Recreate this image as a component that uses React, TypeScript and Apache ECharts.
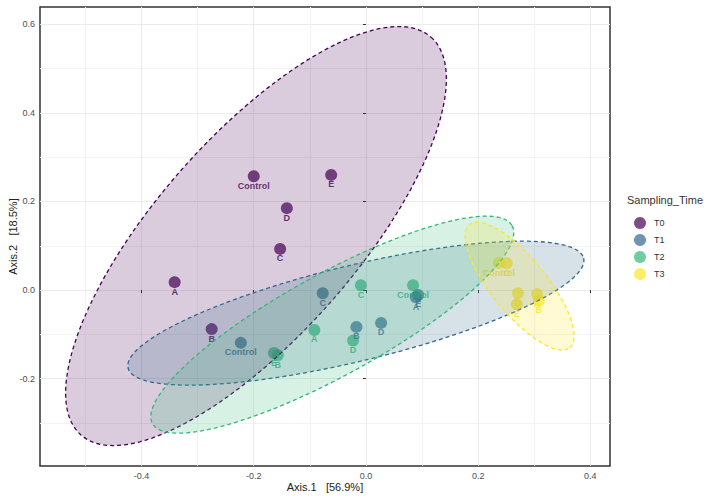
import React, { useEffect, useRef } from 'react';
import * as echarts from 'echarts';

const samplingTimes = ['T0', 'T1', 'T2', 'T3'];
const groupColors = ['#440154', '#31688E', '#35B779', '#FDE725'];

const t0Points: [number, number, string][] = [
  [-0.2, 0.257, 'Control'],
  [-0.062, 0.26, 'E'],
  [-0.141, 0.185, 'D'],
  [-0.153, 0.093, 'C'],
  [-0.341, 0.018, 'A'],
  [-0.275, -0.088, 'B'],
];
const t1Points: [number, number, string][] = [
  [-0.223, -0.119, 'Control'],
  [-0.077, -0.007, 'C'],
  [-0.017, -0.083, 'B'],
  [0.027, -0.074, 'D'],
  [0.089, -0.016, 'A'],
  [0.093, -0.011, 'E'],
];
const t2Points: [number, number, string][] = [
  [0.084, 0.011, 'Control'],
  [-0.009, 0.011, 'C'],
  [-0.092, -0.09, 'A'],
  [-0.023, -0.114, 'D'],
  [-0.157, -0.147, 'B'],
  [-0.164, -0.142, 'E'],
];
const t3Points: [number, number, string][] = [
  [0.251, 0.061, 'C'],
  [0.237, 0.061, 'Control'],
  [0.271, -0.007, 'D'],
  [0.305, -0.009, 'A'],
  [0.269, -0.032, 'E'],
  [0.308, -0.024, 'B'],
];
const groupPoints = [t0Points, t1Points, t2Points, t3Points];

// 95% ellipse per group: centre and two conjugate semi-axis vectors (data units)
const ellipseCenters = [[-0.196, 0.122], [-0.018, -0.052], [-0.06, -0.078], [0.274, 0.009]];
const ellipseAxisU = [[0.312, 0.449], [0.406, 0.124], [0.3205, 0.2233], [0.0893, -0.1388]];
const ellipseAxisV = [[0.1335, -0.1485], [0.02, -0.105], [0.0437, -0.1005], [0.038, 0.0393]];

const xMajorTicks = [-0.4, -0.2, 0, 0.2, 0.4];
const xMinorTicks = [-0.5, -0.3, -0.1, 0.1, 0.3];
const yMajorTicks = [-0.2, 0, 0.2, 0.4, 0.6];
const yMinorTicks = [-0.3, -0.1, 0.1, 0.3, 0.5];
const xRange = [-0.581, 0.435];
const yRange = [-0.397, 0.639];

const FONT = '"Liberation Sans", Arial, Helvetica, sans-serif';

function hexToRgba(hex: string, a: number) {
  const n = parseInt(hex.slice(1), 16);
  return `rgba(${(n >> 16) & 255},${(n >> 8) & 255},${n & 255},${a})`;
}

export default function App() {
  const ref = useRef<HTMLDivElement>(null);
  useEffect(() => {
    if (!ref.current) return;
    const chart = echarts.init(ref.current, null, { renderer: 'svg' });

    const scatterSeries = samplingTimes.map((name, i) => ({
      type: 'scatter',
      name,
      xAxisIndex: 0,
      yAxisIndex: 0,
      data: groupPoints[i],
      symbolSize: 12,
      itemStyle: { color: groupColors[i], opacity: 0.7 },
      label: {
        show: true,
        position: 'bottom',
        distance: -1,
        formatter: (p: any) => p.data[2],
        color: groupColors[i],
        opacity: 0.8,
        fontSize: 9,
        fontWeight: 'bold',
        fontFamily: FONT,
      },
      labelLayout: { hideOverlap: false },
      emphasis: { disabled: true },
      z: 2,
    }));

    const ellipseSeries = samplingTimes.map((name, i) => ({
      type: 'custom',
      name: name + ' ellipse',
      xAxisIndex: 0,
      yAxisIndex: 0,
      data: [ellipseCenters[i]],
      encode: { x: 0, y: 1 },
      clip: true,
      silent: true,
      z: 3,
      renderItem: (params: any, api: any) => {
        const [cx, cy] = ellipseCenters[i];
        const [ux, uy] = ellipseAxisU[i];
        const [vx, vy] = ellipseAxisV[i];
        const pts: number[][] = [];
        const N = 160;
        for (let k = 0; k < N; k++) {
          const t = (2 * Math.PI * k) / N;
          const x = cx + ux * Math.cos(t) + vx * Math.sin(t);
          const y = cy + uy * Math.cos(t) + vy * Math.sin(t);
          pts.push(api.coord([x, y]));
        }
        return {
          type: 'polygon',
          shape: { points: pts },
          style: {
            fill: hexToRgba(groupColors[i], 0.2),
            stroke: groupColors[i],
            lineWidth: 1.3,
            lineDash: [4, 3],
          },
        };
      },
    }));

    const axisNameStyle = { fontSize: 11, color: '#222', fontFamily: FONT };
    const tickLabelStyle = { fontSize: 9, color: '#4d4d4d', fontFamily: FONT };

    chart.setOption({
      animation: false,
      backgroundColor: '#ffffff',
      grid: {
        left: 40,
        right: 101,
        top: 7,
        bottom: 34,
        containLabel: false,
        outerBoundsMode: 'none',
        show: true,
        borderColor: '#333333',
        borderWidth: 1.5,
        backgroundColor: 'transparent',
      },
      xAxis: [
        {
          type: 'value',
          min: xRange[0],
          max: xRange[1],
          name: 'Axis.1   [56.9%]',
          nameLocation: 'middle',
          nameGap: 15,
          nameMoveOverlap: false,
          nameTextStyle: axisNameStyle,
          axisLine: { show: false },
          axisTick: { show: true, length: 3, customValues: xMajorTicks, lineStyle: { color: '#333' } },
          axisLabel: {
            customValues: xMajorTicks,
            formatter: (v: number) => v.toFixed(1),
            margin: 5,
            ...tickLabelStyle,
          },
          splitLine: { show: true, lineStyle: { color: '#ebebeb', width: 1 } },
          z: 0,
        },
        {
          type: 'value',
          min: xRange[0],
          max: xRange[1],
          position: 'bottom',
          axisLine: { show: false },
          axisTick: { show: false, customValues: xMinorTicks },
          axisLabel: { show: false, customValues: xMinorTicks },
          splitLine: { show: true, lineStyle: { color: '#f3f3f3', width: 1 } },
          z: 0,
        },
      ],
      yAxis: [
        {
          type: 'value',
          min: yRange[0],
          max: yRange[1],
          name: 'Axis.2   [18.5%]',
          nameLocation: 'middle',
          nameGap: 22,
          nameMoveOverlap: false,
          nameTextStyle: axisNameStyle,
          axisLine: { show: false },
          axisTick: { show: true, length: 3, customValues: yMajorTicks, lineStyle: { color: '#333' } },
          axisLabel: {
            customValues: yMajorTicks,
            formatter: (v: number) => v.toFixed(1),
            margin: 5,
            ...tickLabelStyle,
          },
          splitLine: { show: true, lineStyle: { color: '#ebebeb', width: 1 } },
          z: 0,
        },
        {
          type: 'value',
          min: yRange[0],
          max: yRange[1],
          position: 'left',
          axisLine: { show: false },
          axisTick: { show: false, customValues: yMinorTicks },
          axisLabel: { show: false, customValues: yMinorTicks },
          splitLine: { show: true, lineStyle: { color: '#f3f3f3', width: 1 } },
          z: 0,
        },
      ],
      legend: {
        data: samplingTimes,
        orient: 'vertical',
        left: 629,
        top: 212,
        itemWidth: 12,
        itemHeight: 12,
        itemGap: 5,
        icon: 'circle',
        selectedMode: false,
        textStyle: { fontSize: 9, color: '#333', fontFamily: FONT, padding: [0, 0, 0, 3] },
      },
      graphic: [
        {
          type: 'text',
          left: 627,
          top: 194,
          style: { text: 'Sampling_Time', fontSize: 11, fill: '#333', fontFamily: FONT },
        },
      ],
      series: [...scatterSeries, ...ellipseSeries],
    });

    return () => chart.dispose();
  }, []);

  return (
    <div
      ref={ref}
      style={{ position: 'fixed', left: 0, top: 0, width: 711, height: 500, background: '#fff' }}
    />
  );
}
